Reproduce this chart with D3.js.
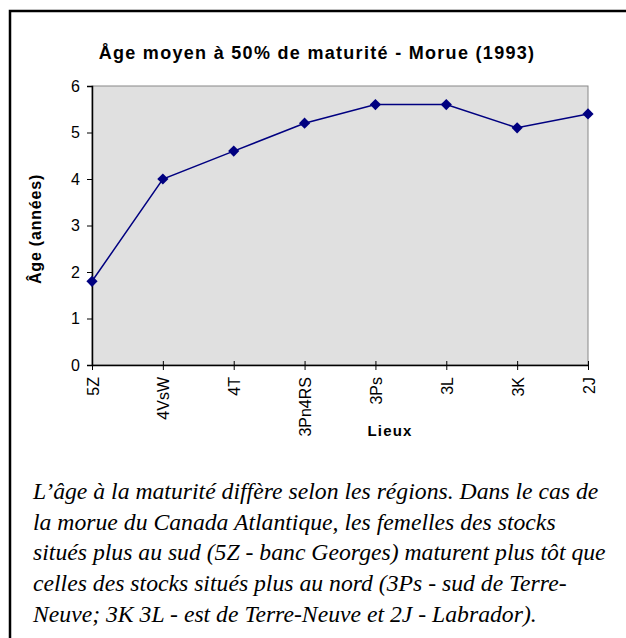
<!DOCTYPE html>
<html>
<head>
<meta charset="utf-8">
<script src="https://cdn.jsdelivr.net/npm/d3@7"></script>
<style>
  body { margin: 0; background: #fff; }
</style>
</head>
<body>
<script>
var width = 626,
    height = 638;

var lieux = ['5Z', '4VsW', '4T', '3Pn4RS', '3Ps', '3L', '3K', '2J'];
var ages = [1.8, 4.0, 4.6, 5.2, 5.6, 5.6, 5.1, 5.4];
var yTicks = [0, 1, 2, 3, 4, 5, 6];
var titre = 'Åge moyen à 50% de maturité - Morue (1993)';
var legende = [
  'L\u2019âge à la maturité diffère selon les régions. Dans le cas de',
  'la morue du Canada Atlantique, les femelles des stocks',
  'situés plus au sud (5Z - banc Georges) maturent plus tôt que',
  'celles des stocks situés plus au nord (3Ps - sud de Terre-',
  'Neuve; 3K 3L - est de Terre-Neuve et 2J - Labrador).'
];

var sans = 'Arial, "Liberation Sans", sans-serif';

var svg = d3.select('body')
            .append('svg')
            .attr('width', width)
            .attr('height', height)

// cadre (only top and left visible)
svg.append('rect')
    .attr('x', 10).attr('y', 11)
    .attr('width', 640).attr('height', 660)
    .attr('fill', 'none')
    .attr('stroke', 'black')
    .attr('stroke-width', 2.5)

var pLeft = 92, pRight = 588, pTop = 86, pBottom = 365;

var x = d3.scalePoint().domain(lieux).range([pLeft, pRight])
var y = d3.scaleLinear().domain([0, 6]).range([pBottom, pTop])

// plot area
svg.append('rect')
    .attr('x', pLeft).attr('y', pTop)
    .attr('width', pRight - pLeft).attr('height', pBottom - pTop)
    .attr('fill', '#e0e0e0')
    .attr('stroke', '#888')
    .attr('stroke-width', 1)

svg.append('text')
    .attr('x', 317).attr('y', 59)
    .attr('text-anchor', 'middle')
    .style('font-family', sans)
    .style('font-weight', 'bold')
    .style('font-size', '18px')
    .style('letter-spacing', '1.3px')
    .text(titre)

// y axis
var yAxis = svg.append('g')
    .attr('transform', 'translate(' + pLeft + ',0)')
    .call(d3.axisLeft(y).tickValues(yTicks).tickSize(5).tickPadding(7).tickFormat(d3.format('d')))
yAxis.select('.domain').attr('stroke', 'black').attr('stroke-width', 1.5)
yAxis.selectAll('text')
    .style('font-family', sans)
    .style('font-size', '16px')
    .attr('fill', 'black')

// x axis
var xAxis = svg.append('g')
    .attr('transform', 'translate(0,' + pBottom + ')')
    .call(d3.axisBottom(x).tickSizeInner(5).tickSizeOuter(0).tickPadding(0))
xAxis.select('.domain').attr('stroke', 'black').attr('stroke-width', 1.5)
xAxis.selectAll('.tick line').attr('y1', -4)
xAxis.selectAll('text')
    .style('font-family', sans)
    .style('font-size', '16px')
    .attr('fill', 'black')
    .attr('text-anchor', 'end')
    .attr('dy', null)
    .attr('transform', 'translate(6,12) rotate(-90)')
    .attr('x', 0).attr('y', 0)

svg.append('text')
    .attr('transform', 'translate(41,229) rotate(-90)')
    .attr('text-anchor', 'middle')
    .style('font-family', sans)
    .style('font-weight', 'bold')
    .style('font-size', '16px')
    .style('letter-spacing', '0.8px')
    .text('Âge (années)')

svg.append('text')
    .attr('x', 390).attr('y', 436)
    .attr('text-anchor', 'middle')
    .style('font-family', sans)
    .style('font-weight', 'bold')
    .style('font-size', '15px')
    .style('letter-spacing', '1.2px')
    .text('Lieux')

// line + markers
var line = d3.line()
    .x((d, i) => x(lieux[i]))
    .y(d => y(d))

svg.append('path')
    .datum(ages)
    .attr('d', line)
    .attr('fill', 'none')
    .attr('stroke', '#000080')
    .attr('stroke-width', 1.5)

svg.selectAll('.pt')
    .data(ages)
    .enter()
    .append('path')
    .attr('class', 'pt')
    .attr('d', d3.symbol().type(d3.symbolDiamond2).size(80))
    .attr('transform', (d, i) => 'translate(' + x(lieux[i]) + ',' + y(d) + ')')
    .attr('fill', '#000080')

// caption
svg.append('g').selectAll('text')
    .data(legende)
    .enter()
    .append('text')
    .attr('x', 33)
    .attr('y', (d, i) => 499 + i * 30.7)
    .style('font-family', '"Liberation Serif", "Times New Roman", serif')
    .style('font-style', 'italic')
    .style('font-size', '23.7px')
    .text(d => d)
</script>
</body>
</html>
